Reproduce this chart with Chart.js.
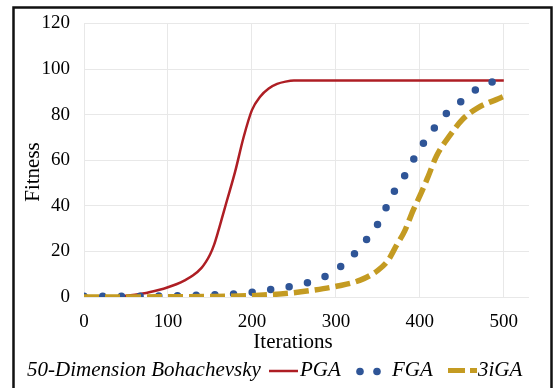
<!DOCTYPE html>
<html>
<head>
<meta charset="utf-8">
<script src="https://cdn.jsdelivr.net/npm/chart.js@4.4.1/dist/chart.umd.min.js"></script>
<style>
    body { margin: 0; background: #fff; }
    #wrap { position: relative; width: 555px; height: 388px; }
</style>
</head>
<body>
<div id="wrap"><canvas id="fitnessChart"></canvas></div>
<script>
// ค่าที่อ่านจากกราฟ (iteration, fitness)
const pgaIter = [0, 25, 50, 70, 90, 100, 110, 120, 130, 140, 145, 150, 155, 160, 165, 170, 180, 190, 200, 210, 220, 230, 240, 250, 270, 300, 400, 500];
const pgaFit  = [0, 0.2, 0.6, 1.5, 3.2, 4.3, 5.6, 7.3, 9.5, 12.8, 15.3, 18.5, 23, 29, 35.5, 42, 55, 70, 82, 88, 91.5, 93.5, 94.5, 95, 95, 95, 95, 95];

const fgaIter = [0, 50, 100, 150, 175, 195, 217, 238, 260, 280, 300, 315, 330, 343, 355, 363, 374, 385, 395, 407, 419, 433, 450, 467, 487, 492];
const fgaFit  = [0.3, 0.3, 0.5, 0.9, 1.3, 1.8, 3, 4.1, 5.7, 7.8, 11.7, 16.5, 22, 28.6, 35, 42, 49, 55, 62, 69, 75, 81, 86, 91, 94.5, 95];

const igaIter = [0, 50, 100, 150, 200, 245, 273, 302, 329, 350, 362, 372, 382, 392, 402, 410, 420, 436, 451, 469, 491, 500];
const igaFit  = [0, 0, 0.1, 0.2, 0.6, 1.7, 3, 4.8, 7.4, 11.7, 16, 22.5, 29, 38, 46, 53, 62, 71, 78, 83, 86.6, 88];

const xTicks = [0, 100, 200, 300, 400, 500];
const seriesNames = ['PGA', 'FGA', '3iGA'];
const legendTitle = '50-Dimension Bohachevsky';

const serif = "'Liberation Serif', 'Times New Roman', serif";
const red = '#AE1E24';
const blue = '#2F5597';
const gold = '#C49B22';

function toPoints(xs, ys) {
    return xs.map((x, i) => ({ x: x, y: ys[i] }));
}

// วาดกรอบ ชื่อแกน และ legend เอง
const decorPlugin = {
    id: 'decor',
    afterDraw(chart) {
        const ctx = chart.ctx;
        ctx.save();

        // กรอบสีดำ
        ctx.strokeStyle = '#111';
        ctx.lineWidth = 2.5;
        ctx.strokeRect(13.5, 7.5, 538, 400);

        // ชื่อแกน
        ctx.fillStyle = '#000';
        ctx.font = '21px ' + serif;
        ctx.textAlign = 'center';
        ctx.textBaseline = 'alphabetic';
        ctx.fillText('Iterations', 293, 348);

        ctx.save();
        ctx.translate(39, 172);
        ctx.rotate(-Math.PI / 2);
        ctx.fillText('Fitness', 0, 0);
        ctx.restore();

        // legend
        ctx.font = 'italic 21px ' + serif;
        ctx.textAlign = 'left';
        const base = 376;
        ctx.fillText(legendTitle, 27, base);

        // PGA
        ctx.strokeStyle = red;
        ctx.lineWidth = 2.5;
        ctx.beginPath();
        ctx.moveTo(269, 371);
        ctx.lineTo(298, 371);
        ctx.stroke();
        ctx.fillText(seriesNames[0], 300, base);

        // FGA
        ctx.fillStyle = blue;
        [360, 377].forEach(cx => {
            ctx.beginPath();
            ctx.arc(cx, 371.5, 3.8, 0, Math.PI * 2);
            ctx.fill();
        });
        ctx.fillStyle = '#000';
        ctx.fillText(seriesNames[1], 392, base);

        // 3iGA
        ctx.fillStyle = gold;
        ctx.fillRect(448, 368, 17, 5);
        ctx.fillRect(470, 368, 7, 5);
        ctx.fillStyle = '#000';
        ctx.fillText(seriesNames[2], 478, base);

        ctx.restore();
    }
};

document.addEventListener('DOMContentLoaded', function() {
    const ctx = document.getElementById('fitnessChart').getContext('2d');
    new Chart(ctx, {
        type: 'line',
        data: {
            datasets: [{
                label: seriesNames[2],
                data: toPoints(igaIter, igaFit),
                borderColor: gold,
                borderWidth: 5.5,
                borderDash: [15, 6],
                cubicInterpolationMode: 'monotone',
                pointRadius: 0,
                order: 0
            }, {
                label: seriesNames[1],
                data: toPoints(fgaIter, fgaFit),
                borderColor: blue,
                borderWidth: 7.5,
                borderDash: [0, 18.7],
                borderCapStyle: 'round',
                cubicInterpolationMode: 'monotone',
                pointRadius: 0,
                order: 1
            }, {
                label: seriesNames[0],
                data: toPoints(pgaIter, pgaFit),
                borderColor: red,
                borderWidth: 2.5,
                cubicInterpolationMode: 'monotone',
                pointRadius: 0,
                order: 2
            }]
        },
        options: {
            responsive: true,
            maintainAspectRatio: false,
            animation: false,
            layout: { padding: { left: 0, top: 20, right: 26, bottom: 51 } },
            plugins: {
                legend: { display: false },
                tooltip: { enabled: false }
            },
            scales: {
                x: {
                    type: 'linear',
                    min: 0,
                    max: 530,
                    afterBuildTicks: function(scale) {
                        scale.ticks = xTicks.map(v => ({ value: v }));
                    },
                    afterFit: function(scale) { scale.height = 40; },
                    grid: { color: '#e8e8e8', drawTicks: false },
                    border: { display: false },
                    ticks: {
                        padding: 16,
                        color: '#000',
                        font: { family: serif, size: 19, lineHeight: 1 }
                    }
                },
                y: {
                    min: 0,
                    max: 120,
                    afterFit: function(scale) { scale.width = 84; },
                    grid: { color: '#e8e8e8', drawTicks: false },
                    border: { display: false },
                    ticks: {
                        stepSize: 20,
                        padding: 14,
                        color: '#000',
                        font: { family: serif, size: 19, lineHeight: 1 }
                    }
                }
            }
        },
        plugins: [decorPlugin]
    });
});
</script>
</body>
</html>
